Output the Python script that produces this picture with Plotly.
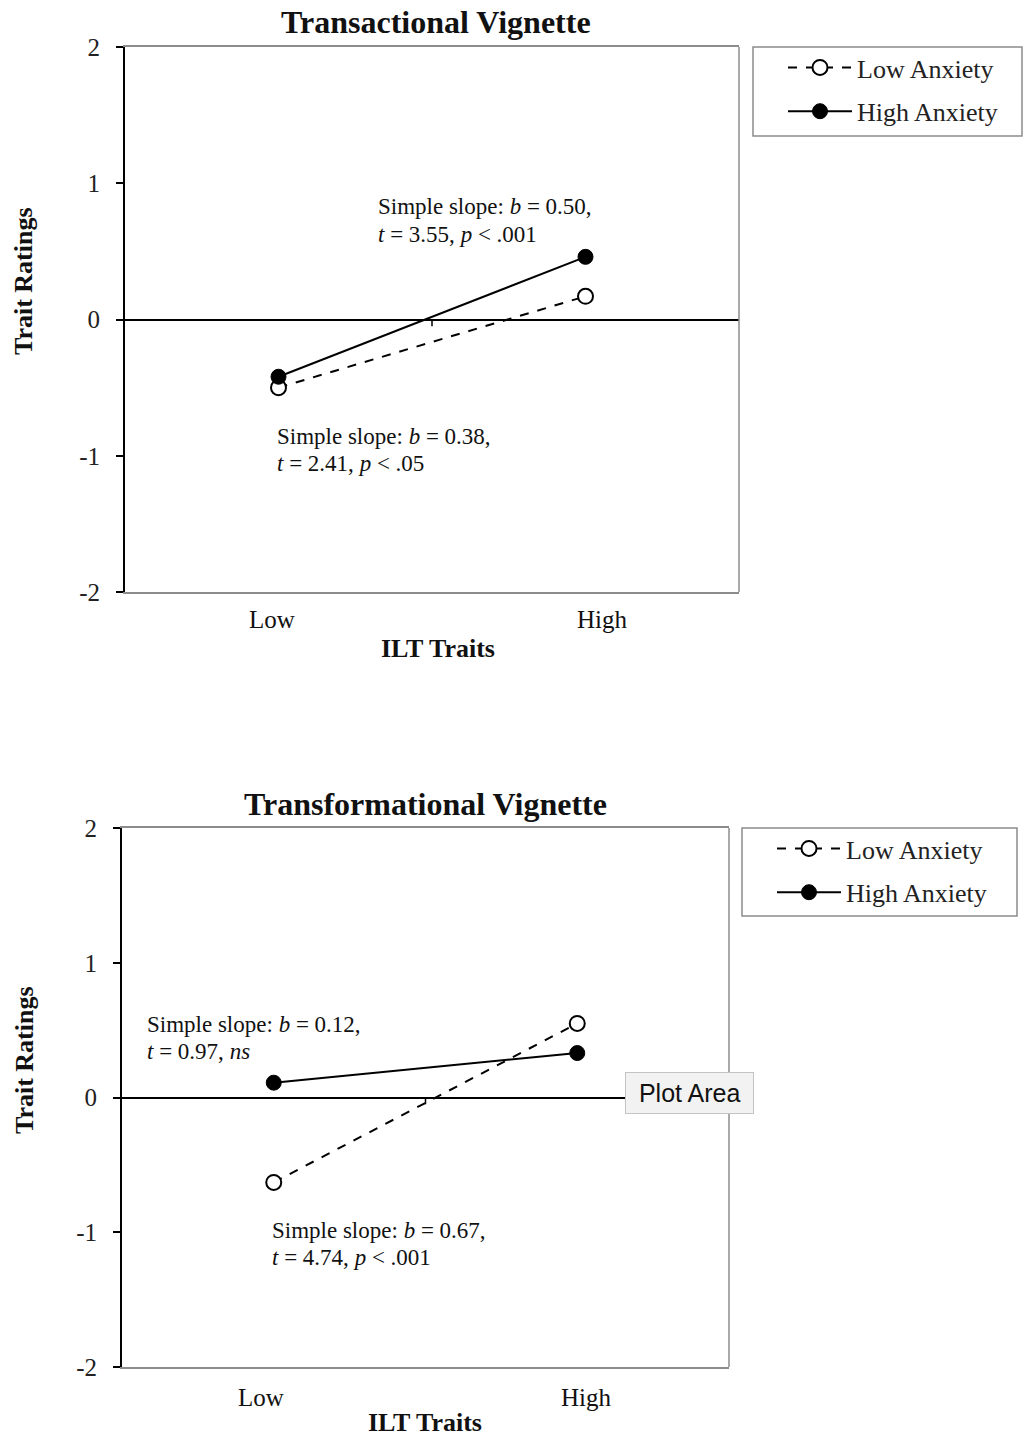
import plotly.graph_objects as go

W, H = 1024, 1438

categories = ["Low", "High"]
series_names = ["Low Anxiety", "High Anxiety"]
transactional_low_anx = [-0.50, 0.17]
transactional_high_anx = [-0.42, 0.46]
transformational_low_anx = [-0.63, 0.55]
transformational_high_anx = [0.11, 0.33]
y_ticks = [-2, -1, 0, 1, 2]
y_tick_text = ["-2", "-1", "0", "1", "2"]

SERIF = "Liberation Serif, Times New Roman, serif"

def px_x(v):
    return v / W

def px_y(v):
    return 1 - v / H

fig = go.Figure()

def add_pair(low_vals, high_vals, xa, ya, legend):
    fig.add_trace(go.Scatter(
        x=categories, y=low_vals, name=series_names[0], mode="lines+markers",
        line=dict(color="black", width=2, dash="dash"),
        marker=dict(symbol="circle", size=15, color="white", line=dict(color="black", width=2)),
        xaxis=xa, yaxis=ya, legend=legend, legendgroup=legend + "a"))
    fig.add_trace(go.Scatter(
        x=categories, y=high_vals, name=series_names[1], mode="lines+markers",
        line=dict(color="black", width=2),
        marker=dict(symbol="circle", size=15, color="black", line=dict(color="black", width=1)),
        xaxis=xa, yaxis=ya, legend=legend, legendgroup=legend + "b"))

add_pair(transactional_low_anx, transactional_high_anx, "x", "y", "legend")
add_pair(transformational_low_anx, transformational_high_anx, "x2", "y2", "legend2")

xcommon = dict(type="category", categoryorder="array", categoryarray=categories,
               range=[-0.5, 1.5], showgrid=False, zeroline=False, automargin=False,
               showline=True, linecolor="#8c8c8c", linewidth=1.5, mirror=True,
               ticks="", showticklabels=False, fixedrange=True)
ycommon = dict(range=[-2, 2], tickvals=y_ticks, ticktext=y_tick_text, showgrid=False,
               zeroline=True, zerolinecolor="black", zerolinewidth=2, automargin=False,
               showline=True, linecolor="black", linewidth=2,
               ticks="outside", ticklen=7, tickwidth=2, tickcolor="black",
               tickfont=dict(family=SERIF, size=25, color="#222"),
               ticklabelstandoff=11, fixedrange=True)

p1 = dict(x0=125, x1=739, y0=47, y1=592)
p2 = dict(x0=122, x1=729, y0=828, y1=1367)
leg1 = dict(x0=753, x1=1022, y0=47, y1=136)
leg2 = dict(x0=742, x1=1017, y0=828, y1=916)

legend_common = dict(xanchor="left", yanchor="top", borderwidth=0,
                     bgcolor="rgba(0,0,0,0)",
                     font=dict(family=SERIF, size=26, color="#222"),
                     itemwidth=64, tracegroupgap=7, traceorder="grouped")

fig.update_layout(
    width=W, height=H, margin=dict(l=0, r=0, t=0, b=0, autoexpand=False),
    paper_bgcolor="white", plot_bgcolor="white",
    xaxis=dict(xcommon, domain=[px_x(p1["x0"]), px_x(p1["x1"])], anchor="y"),
    yaxis=dict(ycommon, domain=[px_y(p1["y1"]), px_y(p1["y0"])], anchor="x"),
    xaxis2=dict(xcommon, domain=[px_x(p2["x0"]), px_x(p2["x1"])], anchor="y2"),
    yaxis2=dict(ycommon, domain=[px_y(p2["y1"]), px_y(p2["y0"])], anchor="x2"),
    legend=dict(legend_common, x=px_x(leg1["x0"] + 30), y=px_y(leg1["y0"] - 3)),
    legend2=dict(legend_common, x=px_x(leg2["x0"] + 30), y=px_y(leg2["y0"] - 3)),
    showlegend=True,
)

# legend frames, right borders (gray) and middle tick on the zero line
for lg in (leg1, leg2):
    fig.add_shape(type="rect", xref="paper", yref="paper",
                  x0=px_x(lg["x0"]), x1=px_x(lg["x1"]), y0=px_y(lg["y1"]), y1=px_y(lg["y0"]),
                  line=dict(color="#8c8c8c", width=1.5), fillcolor="rgba(0,0,0,0)", layer="below")
for xr, yr in (("x", "y"), ("x2", "y2")):
    fig.add_shape(type="line", xref=xr + " domain", yref=yr + " domain",
                  x0=1, x1=1, y0=0, y1=1, line=dict(color="#8c8c8c", width=1.5))
    fig.add_shape(type="line", xref=xr, yref=yr, x0=0.5, x1=0.5, y0=0, y1=-0.05,
                  line=dict(color="black", width=1.5))

ann = []
def text(x, y, s, size=21, bold=False, angle=0, xanchor="center", align="center", family=SERIF):
    ann.append(dict(x=px_x(x), y=px_y(y), xref="paper", yref="paper", text=s,
                    showarrow=False, xanchor=xanchor, yanchor="middle", align=align,
                    textangle=angle,
                    font=dict(family=family, size=size, color="#111",
                              weight="bold" if bold else "normal")))

text(436, 22, "Transactional Vignette", size=32, bold=True)
text(425, 804, "Transformational Vignette", size=32, bold=True)
text(438, 648, "ILT Traits", size=26, bold=True)
text(425, 1422, "ILT Traits", size=26, bold=True)
text(24, 281, "Trait Ratings", size=26, bold=True, angle=-90)
text(24, 1060, "Trait Ratings", size=26, bold=True, angle=-90)

# category labels (Excel places them slightly off the point centres)
text(272, 619, categories[0], size=25)
text(602, 619, categories[1], size=25)
text(261, 1397, categories[0], size=25)
text(586, 1397, categories[1], size=25)

def slope_label(x, y, line1, line2):
    text(x, y, line1, size=23, xanchor="left", align="left")
    text(x, y + 27, line2, size=23, xanchor="left", align="left")

slope_label(376, 207, "Simple slope: <i>b</i> = 0.50,", "<i>t</i> = 3.55, <i>p</i> < .001")
slope_label(275, 436, "Simple slope: <i>b</i> = 0.38,", "<i>t</i> = 2.41, <i>p</i> < .05")
slope_label(145, 1024, "Simple slope: <i>b</i> = 0.12,", "<i>t</i> = 0.97, <i>ns</i>")
slope_label(270, 1230, "Simple slope: <i>b</i> = 0.67,", "<i>t</i> = 4.74, <i>p</i> < .001")

ann.append(dict(x=px_x(689.5), y=px_y(1092.5), xref="paper", yref="paper",
                text="&nbsp;Plot Area&nbsp;", showarrow=False, xanchor="center", yanchor="middle",
                bgcolor="#f2f2f2", bordercolor="#c4c4c4", borderwidth=1, borderpad=6,
                font=dict(family="Liberation Sans, Arial, sans-serif", size=25, color="#111")))

fig.update_layout(annotations=ann)
fig.write_html("out.html")
